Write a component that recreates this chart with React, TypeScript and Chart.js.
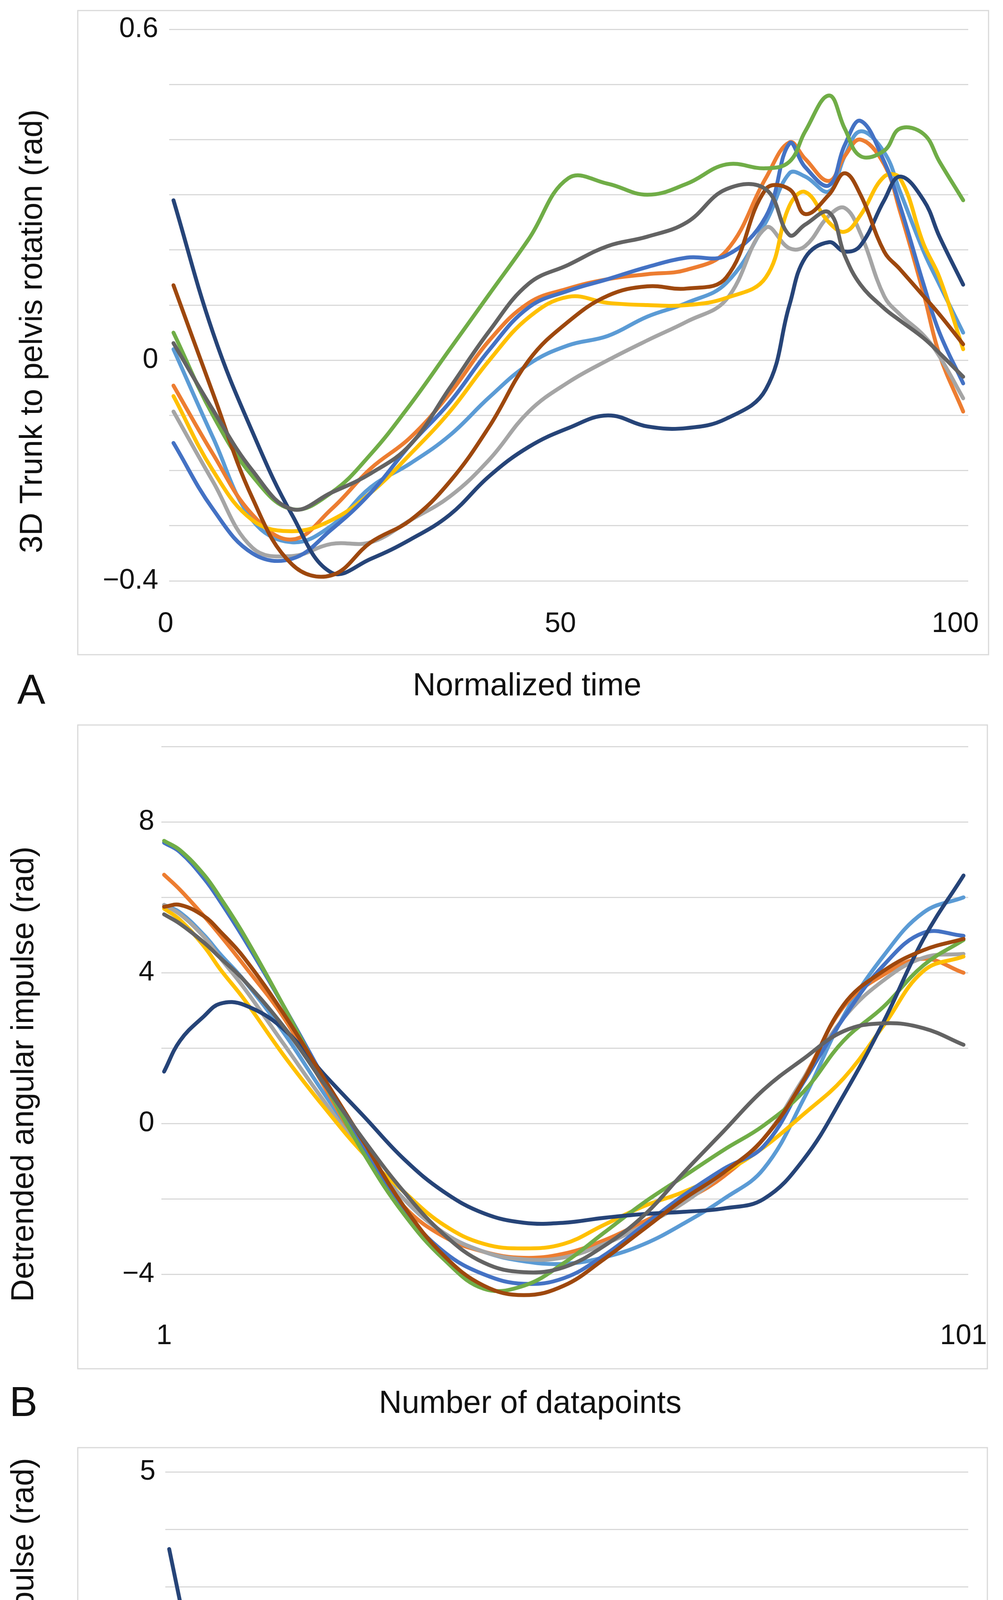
import React, { useEffect, useRef } from 'react';
import { Chart, registerables } from 'chart.js';

Chart.register(...registerables);

const FONT = '"Liberation Sans", Arial, Helvetica, sans-serif';
const TEXT = '#111111';
const GRID = '#D9D9D9';
const W = 2567;

// Series (participants) in Excel default order
const SERIES_NAMES = ['P1', 'P2', 'P3', 'P4', 'P5', 'P6', 'P7', 'P8', 'P9'];
const SERIES_COLORS = ['#5B9BD5', '#ED7D31', '#A5A5A5', '#FFC000', '#4472C4', '#70AD47', '#264478', '#9E480E', '#636363'];

// ---------------- Panel A: 3D trunk to pelvis rotation (rad) ----------------
const A_X = [1, 6, 11, 16, 21, 26, 31, 36, 41, 46, 51, 56, 61, 66, 71, 76, 79, 81, 84, 86, 88, 91, 93, 96, 98, 101];
const A_LIGHTBLUE = [0.02, -0.14, -0.29, -0.33, -0.3, -0.23, -0.187, -0.136, -0.067, -0.007, 0.027, 0.044, 0.079, 0.104, 0.14, 0.25, 0.339, 0.333, 0.306, 0.37, 0.415, 0.377, 0.306, 0.197, 0.137, 0.05];
const A_ORANGE = [-0.046, -0.17, -0.28, -0.325, -0.27, -0.196, -0.14, -0.06, 0.036, 0.104, 0.13, 0.147, 0.156, 0.164, 0.198, 0.33, 0.395, 0.365, 0.325, 0.37, 0.4, 0.355, 0.27, 0.12, 0.01, -0.093];
const A_GRAY = [-0.093, -0.22, -0.34, -0.355, -0.333, -0.33, -0.29, -0.247, -0.18, -0.093, -0.04, 0.0, 0.036, 0.07, 0.11, 0.24, 0.203, 0.207, 0.262, 0.276, 0.23, 0.116, 0.083, 0.045, 0.007, -0.069];
const A_GOLD = [-0.065, -0.2, -0.29, -0.31, -0.29, -0.24, -0.17, -0.093, 0.0, 0.078, 0.115, 0.104, 0.1, 0.1, 0.113, 0.15, 0.28, 0.305, 0.25, 0.233, 0.263, 0.333, 0.33, 0.21, 0.15, 0.02];
const A_BLUE = [-0.15, -0.27, -0.35, -0.36, -0.307, -0.24, -0.153, -0.076, 0.019, 0.096, 0.126, 0.147, 0.169, 0.186, 0.19, 0.26, 0.393, 0.35, 0.317, 0.39, 0.434, 0.36, 0.28, 0.137, 0.05, -0.042];
const A_GREEN = [0.05, -0.1, -0.21, -0.27, -0.24, -0.17, -0.08, 0.02, 0.12, 0.22, 0.33, 0.32, 0.3, 0.32, 0.355, 0.348, 0.36, 0.415, 0.48, 0.42, 0.37, 0.38, 0.42, 0.41, 0.36, 0.29];
const A_NAVY = [0.29, 0.05, -0.13, -0.28, -0.385, -0.36, -0.325, -0.28, -0.21, -0.157, -0.123, -0.1, -0.12, -0.123, -0.106, -0.053, 0.1, 0.186, 0.214, 0.197, 0.208, 0.29, 0.333, 0.29, 0.224, 0.137];
const A_BROWN = [0.136, -0.06, -0.25, -0.37, -0.39, -0.33, -0.29, -0.22, -0.12, 0.0, 0.07, 0.117, 0.134, 0.13, 0.15, 0.31, 0.31, 0.265, 0.3, 0.339, 0.3, 0.197, 0.165, 0.116, 0.083, 0.029];
const A_DARKGRAY = [0.031, -0.09, -0.2, -0.27, -0.24, -0.205, -0.153, -0.05, 0.053, 0.139, 0.173, 0.207, 0.224, 0.25, 0.31, 0.31, 0.227, 0.246, 0.268, 0.19, 0.137, 0.094, 0.072, 0.04, 0.013, -0.03];
const A_X_TICKS = [0, 50, 100];
const A_X_LABELS = ['0', '50', '100'];
const A_Y_TICKS = [-0.4, -0.3, -0.2, -0.1, 0, 0.1, 0.2, 0.3, 0.4, 0.5, 0.6];
const A_Y_LABELS = ['\u22120.4', '', '', '', '0', '', '', '', '', '', '0.6'];

// ---------------- Panel B: detrended angular impulse (rad) ----------------
const B_X = [1, 3, 6, 8, 11, 16, 21, 26, 31, 36, 41, 46, 51, 56, 61, 66, 71, 76, 81, 86, 91, 96, 101];
const B_LIGHTBLUE = [5.8, 5.6, 5.0, 4.5, 3.8, 2.4, 0.8, -0.7, -2.0, -2.9, -3.4, -3.65, -3.72, -3.55, -3.2, -2.65, -2.0, -1.2, 0.65, 2.85, 4.45, 5.6, 6.0];
const B_ORANGE = [6.6, 6.2, 5.5, 5.0, 4.2, 2.8, 1.0, -0.8, -2.2, -3.0, -3.4, -3.56, -3.45, -3.1, -2.6, -2.05, -1.4, -0.4, 1.2, 3.1, 3.95, 4.37, 4.0];
const B_GRAY = [5.8, 5.55, 4.95, 4.4, 3.6, 2.1, 0.6, -0.8, -2.0, -2.9, -3.4, -3.6, -3.55, -3.2, -2.7, -2.1, -1.3, -0.4, 1.2, 2.8, 3.8, 4.4, 4.5];
const B_GOLD = [5.7, 5.4, 4.7, 4.1, 3.3, 1.8, 0.44, -0.81, -1.81, -2.69, -3.19, -3.31, -3.19, -2.69, -2.19, -1.81, -1.3, -0.63, 0.25, 1.2, 2.6, 4.05, 4.43];
const B_BLUE = [7.45, 7.2, 6.5, 5.9, 4.9, 3.1, 1.2, -0.7, -2.3, -3.4, -4.0, -4.25, -4.1, -3.5, -2.7, -1.9, -1.2, -0.6, 1.1, 2.8, 4.2, 5.06, 4.98];
const B_GREEN = [7.5, 7.25, 6.6, 6.0, 5.0, 3.1, 1.1, -0.8, -2.4, -3.6, -4.38, -4.3, -3.7, -2.9, -2.1, -1.4, -0.7, -0.05, 0.85, 2.2, 3.1, 4.2, 4.87];
const B_NAVY = [1.38, 2.2, 2.85, 3.18, 3.15, 2.5, 1.31, 0.19, -0.94, -1.81, -2.38, -2.63, -2.63, -2.5, -2.4, -2.34, -2.25, -2.0, -0.95, 0.75, 2.7, 4.9, 6.58];
const B_BROWN = [5.75, 5.8, 5.5, 5.1, 4.4, 2.9, 1.2, -0.5, -2.2, -3.5, -4.3, -4.55, -4.3, -3.6, -2.8, -2.0, -1.3, -0.4, 1.15, 3.15, 4.05, 4.6, 4.9];
const B_DARKGRAY = [5.55, 5.3, 4.8, 4.4, 3.8, 2.56, 1.06, -0.44, -1.81, -2.94, -3.69, -3.94, -3.81, -3.25, -2.44, -1.3, -0.2, 0.9, 1.72, 2.45, 2.66, 2.53, 2.09];
const B_X_TICKS = [1, 101];
const B_X_LABELS = ['1', '101'];
const B_Y_TICKS = [-4, -2, 0, 2, 4, 6, 8, 10];
const B_Y_LABELS = ['\u22124', '', '0', '', '4', '', '8', ''];

// ---------------- Panel C: absolute difference in angular impulse (rad) ----------------
// [datapoint, value]
const C_LIGHTBLUE = [[1, 0.1], [5, 0.12], [8, 0.11], [11, 0.07], [14, 0.06], [17, 0.09], [20, 0.16], [24, 0.27], [28, 0.36], [31, 0.42], [35, 0.41], [39, 0.3], [43, 0.14], [47, 0], [51, 0.26], [54, 0.37], [57, 0.54], [61, 0.65], [64, 0.74], [67, 0.8], [71, 0.83], [72, 0.84], [75, 0.78], [77, 0.54], [80, 0.37], [82, 0.22], [85, 0.11], [88, 0], [91, 0.43], [94, 0.76], [97, 1.1], [101, 1.33]];
const C_ORANGE = [[1, 0.91], [5, 0.45], [9, 0], [12, 0.25], [15, 0.4], [18, 0.44], [21, 0.39], [24, 0.29], [27, 0.17], [31, 0.07], [34, 0], [36, 0.07], [39, 0.11], [42, 0.16], [45, 0.15], [51, 0.1], [54, 0.08], [58, 0.045], [62, 0], [66, 0.045], [69, 0.12], [72, 0.17], [74, 0.17], [77, 0], [81, 0.17], [84, 0.13], [87, 0.17], [91, 0.29], [94, 0.15], [96, 0], [101, 0.7]];
const C_GRAY = [[1, 0.08], [5, 0.2], [9, 0.25], [12, 0.2], [15, 0.1], [17, 0], [21, 0.17], [24, 0.29], [27, 0.38], [31, 0.43], [34, 0.38], [37, 0.31], [41, 0.2], [45, 0], [49, 0.2], [53, 0.36], [57, 0.46], [60, 0.48], [64, 0.47], [67, 0.37], [71, 0.22], [74, 0.1], [76, 0.08], [78, 0.2], [81, 0.2], [84, 0.3], [87, 0.37], [91, 0.26], [95, 0], [99, 0.2], [101, 0.24]];
const C_GOLD = [[1, 0.02], [3, 0.12], [6, 0.31], [9, 0.45], [12, 0.5], [16, 0.47], [19, 0.38], [22, 0.28], [26, 0.17], [29, 0.07], [32, 0], [35, 0.17], [39, 0.29], [42, 0.4], [45, 0.49], [51, 0.63], [54, 0.69], [57, 0.69], [61, 0.63], [64, 0.54], [67, 0.43], [70, 0.3], [72, 0.13], [74, 0], [77, 0.31], [81, 0.35], [84, 0.45], [87, 0.67], [90, 0.6], [94, 0.4], [97, 0.29], [101, 0.27]];
const C_BLUE = [[1, 1.72], [4, 1.2], [7, 0.85], [10, 0.55], [13, 0.15], [16, 0.11], [19, 0.18], [22, 0.26], [26, 0.34], [29, 0.39], [32, 0.45], [36, 0.47], [39, 0.455], [43, 0.46], [46, 0.51], [51, 0.55], [56, 0.54], [59, 0.47], [62, 0.4], [66, 0.28], [69, 0.21], [72, 0.18], [75, 0.08], [77, 0], [79, 0.25], [81, 0.29], [84, 0.27], [87, 0.48], [90, 0.73], [92, 0.78], [94, 0.72], [97, 0.54], [101, 0.26]];
const C_GREEN = [[1, 1.74], [5, 1.2], [9, 0.62], [12, 0.28], [15, 0], [19, 0.37], [22, 0.71], [26, 0.92], [29, 1.01], [32, 1.04], [34, 1.03], [37, 0.9], [40, 0.67], [44, 0.37], [47, 0.09], [50, 0], [54, 0.07], [57, 0.22], [61, 0.34], [64, 0.43], [67, 0.54], [71, 0.65], [72, 0.67], [74, 0.64], [77, 0.37], [81, 0.2], [84, 0.18], [87, 0], [90, 0.28], [92, 0.35], [95, 0.2], [98, 0], [101, 0.25]];
const C_NAVY = [[1, 4.33], [7, 2.3], [10, 1.19], [13, 0.08], [16, 0.65], [19, 0.94], [22, 1.1], [26, 1.24], [29, 1.33], [33, 1.43], [37, 1.39], [40, 1.31], [45, 1.15], [51, 0.91], [54, 0.72], [57, 0.52], [61, 0.28], [64, 0], [67, 0.35], [71, 0.81], [74, 1.21], [77, 1.57], [79, 1.68], [81, 1.61], [84, 1.4], [87, 1.26], [89, 1.1], [91, 0.85], [94, 0], [97, 0.9], [101, 1.9]];
const C_BROWN = [[1, 0.07], [3, 0.25], [6, 0.5], [9, 0.63], [12, 0.67], [14, 0.66], [16, 0.6], [19, 0.4], [22, 0.2], [25, 0.07], [28, 0], [32, 0.31], [35, 0.54], [39, 0.69], [42, 0.76], [45, 0.81], [51, 0.74], [54, 0.65], [57, 0.51], [61, 0.31], [64, 0.22], [67, 0.17], [71, 0.11], [74, 0.01], [77, 0.31], [79, 0.43], [82, 0.45], [84, 0.49], [87, 0.63], [91, 0.46], [94, 0.26], [97, 0.16], [101, 0.16]];
const C_DARKGRAY = [[1, 0.15], [4, 0.21], [8, 0.19], [11, 0.18], [14, 0.18], [17, 0.22], [21, 0.26], [24, 0.29], [27, 0.34], [31, 0.37], [34, 0.38], [37, 0.34], [41, 0.24], [44, 0.11], [46, 0], [51, 0.17], [54, 0.31], [58, 0.45], [61, 0.58], [64, 0.79], [67, 0.99], [69, 1.1], [71, 1.25], [73, 1.42], [75, 1.53], [77, 1.49], [79, 1.27], [82, 0.97], [84, 0.82], [86, 0.6], [88, 0], [91, 0.6], [93, 1.15], [95, 1.5], [98, 2.1], [101, 2.65]];
const C_X_TICKS = [1, 101];
const C_X_LABELS = ['1', '101'];
const C_Y_TICKS = [0, 0.5, 1, 1.5, 2, 2.5, 3, 3.5, 4, 4.5, 5];
const C_Y_LABELS = ['0', '', '', '', '', '2.5', '', '', '', '', '5'];

type Pt = { x: number; y: number };
const zipXY = (xs: number[], ys: number[]): Pt[] => xs.map((x, i) => ({ x, y: ys[i] }));
const pairs = (arr: number[][]): Pt[] => arr.map(([x, y]) => ({ x, y }));

interface PanelSpec {
  top: number;
  height: number;
  series: Pt[][];
  smooth: 'bezier' | 'monotone';
  area: { left: number; right: number; top: number; bottom: number };
  xMin: number; xMax: number; xTicks: number[]; xLabels: string[]; xPad: number;
  yMin: number; yMax: number; yTicks: number[]; yLabels: string[]; yPad: number;
  box: [number, number, number, number];
  letter: string; letterPos: [number, number];
  xTitle: string; xTitlePos: [number, number];
  yTitle: string; yTitlePos: [number, number];
}

const PANEL_A: PanelSpec = {
  top: 0, height: 1850,
  series: [A_LIGHTBLUE, A_ORANGE, A_GRAY, A_GOLD, A_BLUE, A_GREEN, A_NAVY, A_BROWN, A_DARKGRAY].map((ys) => zipXY(A_X, ys)),
  smooth: 'bezier',
  area: { left: 433, right: 2478, top: 75, bottom: 1487 },
  xMin: 0.456, xMax: 101.64, xTicks: A_X_TICKS, xLabels: A_X_LABELS, xPad: 60,
  yMin: -0.4, yMax: 0.6, yTicks: A_Y_TICKS, yLabels: A_Y_LABELS, yPad: 28,
  box: [199, 27, 2530, 1676],
  letter: 'A', letterPos: [80, 1772],
  xTitle: 'Normalized time', xTitlePos: [1349, 1758],
  yTitle: '3D Trunk to pelvis rotation (rad)', yTitlePos: [85, 848],
};

const PANEL_B: PanelSpec = {
  top: 1850, height: 1850,
  series: [B_LIGHTBLUE, B_ORANGE, B_GRAY, B_GOLD, B_BLUE, B_GREEN, B_NAVY, B_BROWN, B_DARKGRAY].map((ys) => zipXY(B_X, ys)),
  smooth: 'bezier',
  area: { left: 413, right: 2478, top: 55, bottom: 1509 },
  xMin: 0.66, xMax: 101.59, xTicks: B_X_TICKS, xLabels: B_X_LABELS, xPad: 11,
  yMin: -5, yMax: 10, yTicks: B_Y_TICKS, yLabels: B_Y_LABELS, yPad: 18,
  box: [199, 6, 2527, 1654],
  letter: 'B', letterPos: [60, 1745],
  xTitle: 'Number of datapoints', xTitlePos: [1357, 1745],
  yTitle: 'Detrended angular impulse (rad)', yTitlePos: [63, 900],
};

const PANEL_C: PanelSpec = {
  top: 3700, height: 1845,
  series: [C_LIGHTBLUE, C_ORANGE, C_GRAY, C_GOLD, C_BLUE, C_GREEN, C_NAVY, C_BROWN, C_DARKGRAY].map(pairs),
  smooth: 'monotone',
  area: { left: 423, right: 2478, top: 53, bottom: 1541 },
  xMin: 0.51, xMax: 101.34, xTicks: C_X_TICKS, xLabels: C_X_LABELS, xPad: 28,
  yMin: 0, yMax: 5, yTicks: C_Y_TICKS, yLabels: C_Y_LABELS, yPad: 25,
  box: [199, 6, 2527, 1659],
  letter: 'C', letterPos: [62, 1765],
  xTitle: 'Number of datapoints', xTitlePos: [1349, 1765],
  yTitle: 'Absolute difference in angular impulse (rad)', yTitlePos: [63, 815],
};

function buildConfig(spec: PanelSpec): any {
  const decor = {
    id: 'decor',
    beforeDraw(chart: any) {
      const ctx = chart.ctx as CanvasRenderingContext2D;
      ctx.save();
      ctx.fillStyle = '#ffffff';
      ctx.fillRect(0, 0, chart.width, chart.height);
      const [l, t, r, b] = spec.box;
      ctx.strokeStyle = GRID;
      ctx.lineWidth = 3;
      ctx.strokeRect(l, t, r - l, b - t);
      ctx.restore();
    },
    afterDraw(chart: any) {
      const ctx = chart.ctx as CanvasRenderingContext2D;
      ctx.save();
      ctx.fillStyle = TEXT;
      ctx.textAlign = 'center';
      ctx.textBaseline = 'middle';
      ctx.font = `108px ${FONT}`;
      ctx.fillText(spec.letter, spec.letterPos[0], spec.letterPos[1]);
      ctx.font = `81px ${FONT}`;
      ctx.fillText(spec.xTitle, spec.xTitlePos[0], spec.xTitlePos[1]);
      ctx.translate(spec.yTitlePos[0], spec.yTitlePos[1]);
      ctx.rotate(-Math.PI / 2);
      ctx.fillText(spec.yTitle, 0, 0);
      ctx.restore();
    },
  };

  const tickFont = { family: FONT, size: 72 };

  return {
    type: 'line',
    data: {
      datasets: spec.series.map((pts, i) => ({
        label: SERIES_NAMES[i],
        data: pts,
        borderColor: SERIES_COLORS[i],
        backgroundColor: SERIES_COLORS[i],
        borderWidth: 10,
        pointRadius: 0,
        pointHoverRadius: 0,
        fill: false,
        tension: spec.smooth === 'bezier' ? 0.4 : 0,
        cubicInterpolationMode: spec.smooth === 'monotone' ? 'monotone' : 'default',
        borderCapStyle: 'round',
        borderJoinStyle: 'round',
        order: spec.series.length - i,
        clip: false,
      })),
    },
    options: {
      responsive: false,
      animation: false,
      devicePixelRatio: 1,
      events: [],
      layout: { padding: { left: 0, top: spec.area.top, right: W - spec.area.right, bottom: 0 } },
      plugins: {
        legend: { display: false },
        tooltip: { enabled: false },
        title: { display: false },
      },
      scales: {
        x: {
          type: 'linear',
          min: spec.xMin,
          max: spec.xMax,
          afterFit: (s: any) => { s.height = spec.height - spec.area.bottom; },
          afterBuildTicks: (s: any) => { s.ticks = spec.xTicks.map((v) => ({ value: v })); },
          grid: { display: false },
          border: { display: false },
          ticks: {
            callback: (_v: any, i: number) => spec.xLabels[i],
            font: tickFont,
            color: TEXT,
            padding: spec.xPad,
            maxRotation: 0,
            autoSkip: false,
          },
        },
        y: {
          type: 'linear',
          min: spec.yMin,
          max: spec.yMax,
          afterFit: (s: any) => { s.width = spec.area.left; },
          afterBuildTicks: (s: any) => { s.ticks = spec.yTicks.map((v) => ({ value: v })); },
          grid: { color: GRID, lineWidth: 3, drawTicks: false },
          border: { display: false },
          ticks: {
            callback: (_v: any, i: number) => spec.yLabels[i],
            font: tickFont,
            color: TEXT,
            padding: spec.yPad,
            autoSkip: false,
          },
        },
      },
    },
    plugins: [decor],
  };
}

function Panel({ spec }: { spec: PanelSpec }) {
  const ref = useRef<HTMLCanvasElement | null>(null);
  useEffect(() => {
    if (!ref.current) return;
    const chart = new Chart(ref.current, buildConfig(spec));
    return () => chart.destroy();
  }, [spec]);
  return (
    <canvas
      ref={ref}
      width={W}
      height={spec.height}
      style={{ position: 'absolute', left: 0, top: spec.top, width: W, height: spec.height, display: 'block' }}
    />
  );
}

export default function App() {
  return (
    <div style={{ position: 'absolute', left: 0, top: 0, width: W, height: 5545, background: '#ffffff', overflow: 'hidden' }}>
      <Panel spec={PANEL_A} />
      <Panel spec={PANEL_B} />
      <Panel spec={PANEL_C} />
    </div>
  );
}
